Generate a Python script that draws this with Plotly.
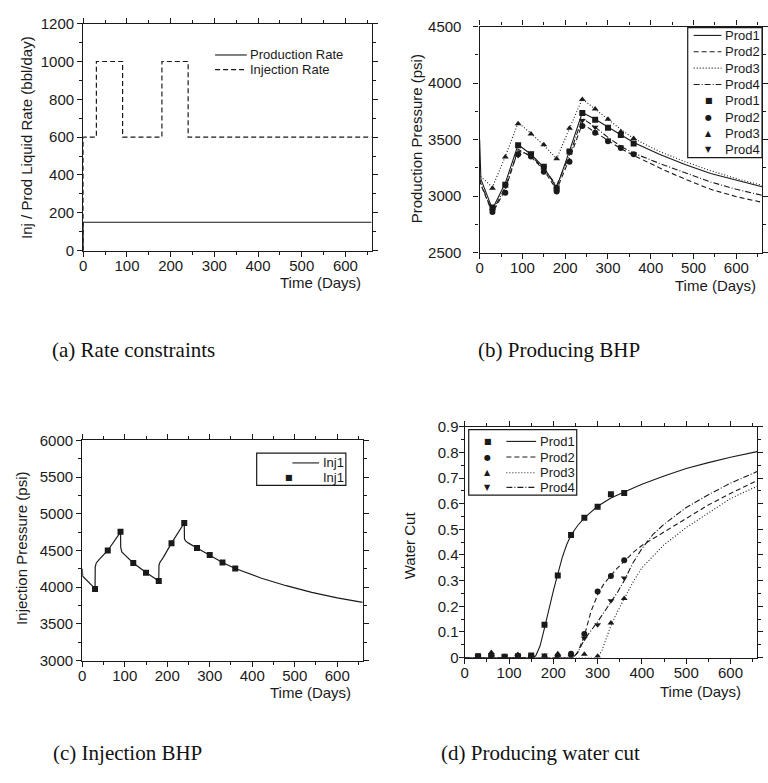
import plotly.graph_objects as go

# ---------------- data ----------------
# (a) rate constraints (step series)
rate_t = [0, 0, 30, 90, 180, 240, 660]
inj_rate = [0, 600, 1000, 600, 1000, 600, 600]
prod_t = [0, 0, 660]
prod_rate = [0, 150, 150]

# (b) producing BHP, simulated lines
bhp_t = [0, 3, 30, 60, 90, 120, 150, 180, 210, 240, 270, 300, 330, 360,
         420, 480, 540, 600, 660]
prod1_bhp = [3500, 3150, 2885, 3115, 3455, 3370, 3255, 3075, 3400, 3740,
             3680, 3610, 3540, 3475, 3370, 3280, 3200, 3140, 3082]
prod2_bhp = [3150, 3100, 2850, 3055, 3415, 3350, 3230, 3055, 3330, 3640,
             3565, 3490, 3420, 3360, 3250, 3150, 3060, 2995, 2945]
prod3_bhp = [3200, 3170, 3080, 3350, 3650, 3555, 3450, 3330, 3600, 3860,
             3770, 3680, 3590, 3510, 3395, 3305, 3225, 3155, 3095]
prod4_bhp = [3150, 3110, 2860, 3080, 3400, 3360, 3240, 3095, 3360, 3690,
             3610, 3520, 3440, 3380, 3290, 3210, 3125, 3060, 3007]

# (b) producing BHP, reference points
pt_t = [30, 60, 90, 120, 150, 180, 210, 240, 270, 300, 330, 360]
prod1_bhp_pts = [2900, 3100, 3450, 3370, 3260, 3070, 3395, 3735, 3675, 3605, 3540, 3465]
prod2_bhp_pts = [2860, 3030, 3370, 3350, 3215, 3040, 3305, 3620, 3560, 3485, 3425, 3370]
prod3_bhp_pts = [3070, 3345, 3640, 3550, 3455, 3330, 3600, 3855, 3770, 3680, 3570, 3510]
prod4_bhp_pts = [2870, 3090, 3360, 3380, 3250, 3060, 3390, 3670, 3610, 3495, 3435, 3375]

# (c) injection BHP
inj_t = [0, 1, 30, 30.5, 33, 40, 60, 90, 90.5, 93, 100, 120, 150, 180,
         180.5, 183, 190, 210, 240, 240.5, 243, 250, 270, 300, 330, 360,
         420, 480, 540, 600, 660]
inj_bhp = [4250, 4150, 3980, 4280, 4330, 4380, 4500, 4750, 4540, 4480,
           4440, 4330, 4200, 4085, 4300, 4340, 4400, 4600, 4875, 4660,
           4630, 4600, 4535, 4440, 4335, 4255, 4125, 4020, 3930, 3855, 3792]
inj_bhp_pts = [3975, 4500, 4755, 4330, 4195, 4085, 4600, 4875, 4535, 4440, 4335, 4255]

# (d) producing water cut, simulated lines
wc1_t = [0, 150, 160, 170, 180, 190, 200, 210, 220, 230, 240, 255, 270, 300,
         330, 360, 400, 450, 500, 550, 600, 660]
wc1 = [0, 0, 0.006, 0.045, 0.115, 0.19, 0.26, 0.325, 0.39, 0.44, 0.478, 0.515,
       0.545, 0.59, 0.622, 0.646, 0.676, 0.708, 0.737, 0.76, 0.781, 0.803]
wc2_t = [0, 245, 255, 270, 285, 300, 315, 330, 345, 360, 380, 400, 450, 500,
         550, 600, 660]
wc2 = [0, 0, 0.02, 0.085, 0.18, 0.245, 0.29, 0.322, 0.35, 0.375, 0.41, 0.437,
       0.49, 0.545, 0.595, 0.64, 0.69]
wc3_t = [0, 300, 310, 320, 330, 345, 360, 380, 400, 450, 500, 550, 600, 660]
wc3 = [0, 0, 0.03, 0.08, 0.125, 0.18, 0.23, 0.295, 0.35, 0.44, 0.507, 0.565,
       0.62, 0.668]
wc4_t = [0, 245, 255, 270, 300, 330, 345, 360, 380, 400, 425, 450, 500, 550,
         600, 660]
wc4 = [0, 0, 0.02, 0.07, 0.14, 0.215, 0.255, 0.3, 0.37, 0.425, 0.48, 0.52,
       0.585, 0.635, 0.68, 0.725]

# (d) producing water cut, reference points
wc1_pts = [0.005, 0.005, 0.003, 0.005, 0.008, 0.128, 0.32, 0.478, 0.545, 0.588, 0.637, 0.642]
wc2_pts = [0.005, 0.008, 0.003, 0.004, 0.006, 0.003, 0.004, 0.015, 0.092, 0.258, 0.318, 0.38]
wc3_pts = [0.003, 0.02, 0.003, 0.012, 0.006, 0.005, 0.015, 0.01, 0.013, 0.005, 0.135, 0.23]
wc4_pts = [0.002, 0.002, 0.005, 0.003, 0.005, 0.01, 0.002, 0.005, 0.075, 0.128, 0.222, 0.31]

well_names = ["Prod1", "Prod2", "Prod3", "Prod4"]
dashes = ["solid", "5px,3px", "1px,2px", "6px,2px,1px,2px"]
symbols = ["square", "circle", "triangle-up", "triangle-down"]
legend_glyphs = ["\u25A0", "\u25CF", "\u25B2", "\u25BC"]

captions = ["(a) Rate constraints", "(b) Producing BHP",
            "(c) Injection BHP", "(d) Producing water cut"]

# ---------------- layout helpers ----------------
W, H = 768, 783
INK = "#1a1a1a"
SANS = "Liberation Sans, Arial, sans-serif"
SERIF = "Liberation Serif, Times New Roman, serif"


def px(x):
    return x / W


def py(y):
    return 1 - y / H


def axis(domain, rng, dtick, minor_dtick, anchor, standoff):
    return dict(
        domain=domain, range=rng, dtick=dtick, anchor=anchor,
        showline=True, linecolor=INK, linewidth=1.3, mirror="allticks",
        ticks="outside", ticklen=5, tickwidth=1, tickcolor=INK,
        showgrid=False, zeroline=False, ticklabelstandoff=standoff,
        minor=dict(dtick=minor_dtick, ticks="outside", ticklen=3,
                   tickwidth=1, tickcolor=INK, showgrid=False),
        tickfont=dict(family=SANS, size=15, color=INK),
    )


fig = go.Figure()

# ---- (a) ----
fig.add_trace(go.Scatter(x=prod_t, y=prod_rate, mode="lines", line_shape="hv",
                         name="Production Rate",
                         line=dict(color=INK, width=1.2, dash="solid"),
                         xaxis="x", yaxis="y"))
fig.add_trace(go.Scatter(x=rate_t, y=inj_rate, mode="lines", line_shape="hv",
                         name="Injection Rate",
                         line=dict(color=INK, width=1.2, dash="5px,3px"),
                         xaxis="x", yaxis="y"))

# ---- (b) ----
bhp_lines = [prod1_bhp, prod2_bhp, prod3_bhp, prod4_bhp]
bhp_pts = [prod1_bhp_pts, prod2_bhp_pts, prod3_bhp_pts, prod4_bhp_pts]
for name, vals, dash in zip(well_names, bhp_lines, dashes):
    fig.add_trace(go.Scatter(x=bhp_t, y=vals, mode="lines", name=name,
                             line=dict(color=INK, width=1.1, dash=dash),
                             xaxis="x2", yaxis="y2"))
for name, vals, sym in zip(well_names, bhp_pts, symbols):
    fig.add_trace(go.Scatter(x=pt_t, y=vals, mode="markers", name=name,
                             marker=dict(symbol=sym, size=6, color=INK),
                             xaxis="x2", yaxis="y2"))

# ---- (c) ----
fig.add_trace(go.Scatter(x=inj_t, y=inj_bhp, mode="lines", name="Inj1",
                         line=dict(color=INK, width=1.2),
                         xaxis="x3", yaxis="y3"))
fig.add_trace(go.Scatter(x=pt_t, y=inj_bhp_pts, mode="markers", name="Inj1",
                         marker=dict(symbol="square", size=6, color=INK),
                         xaxis="x3", yaxis="y3"))

# ---- (d) ----
wc_lines = [(wc1_t, wc1), (wc2_t, wc2), (wc3_t, wc3), (wc4_t, wc4)]
wc_pts = [wc1_pts, wc2_pts, wc3_pts, wc4_pts]
for name, (t, vals), dash in zip(well_names, wc_lines, dashes):
    fig.add_trace(go.Scatter(x=t, y=vals, mode="lines", name=name,
                             line=dict(color=INK, width=1.1, dash=dash),
                             xaxis="x4", yaxis="y4"))
for name, vals, sym in zip(well_names, wc_pts, symbols):
    fig.add_trace(go.Scatter(x=pt_t, y=vals, mode="markers", name=name,
                             marker=dict(symbol=sym, size=6, color=INK),
                             xaxis="x4", yaxis="y4"))

# plot-area boxes (pixels: left, top, right, bottom)
box_a = (80, 15, 371, 247)
box_b = (480, 18, 765, 249)
box_c = (79, 441, 362, 666)
box_d = (465, 427, 760, 663)


def dom(box):
    l, t, r, b = box
    return [px(l), px(r)], [py(b), py(t)]


xa, ya = dom(box_a)
xb, yb = dom(box_b)
xc, yc = dom(box_c)
xd, yd = dom(box_d)

fig.update_layout(
    width=W, height=H, margin=dict(l=0, r=0, t=0, b=0),
    paper_bgcolor="white", plot_bgcolor="white", showlegend=False,
    xaxis=axis(xa, [0, 660], 100, 50, "y", -4),
    yaxis=axis(ya, [0, 1200], 200, 100, "x", 0),
    xaxis2=axis(xb, [0, 660], 100, 50, "y2", -4),
    yaxis2=axis(yb, [2500, 4500], 500, 250, "x2", 9),
    xaxis3=axis(xc, [0, 660], 100, 50, "y3", -4),
    yaxis3=axis(yc, [3000, 6000], 500, 250, "x3", 0),
    xaxis4=axis(xd, [0, 660], 100, 50, "y4", -4),
    yaxis4=axis(yd, [0, 0.9], 0.1, 0.05, "x4", -3),
)

shapes = []
annotations = []
legend_font = dict(family=SANS, size=13, color=INK)


def legend_box(l, t, r, b):
    shapes.append(dict(type="rect", xref="paper", yref="paper",
                       x0=px(l), x1=px(r), y0=py(b), y1=py(t),
                       line=dict(color=INK, width=1.2), fillcolor="white",
                       layer="above"))


def key_line(x0, x1, y, dash):
    shapes.append(dict(type="line", xref="paper", yref="paper",
                       x0=px(x0), x1=px(x1), y0=py(y), y1=py(y),
                       line=dict(color=INK, width=1.1, dash=dash),
                       layer="above"))


def key_glyph(x, y, glyph):
    annotations.append(dict(xref="paper", yref="paper", x=px(x), y=py(y),
                            text=glyph, showarrow=False,
                            font=dict(family="DejaVu Sans", size=8, color=INK),
                            xanchor="center", yanchor="middle"))


def key_text(x, y, text):
    annotations.append(dict(xref="paper", yref="paper", x=px(x), y=py(y),
                            text=text, showarrow=False, font=legend_font,
                            xanchor="left", yanchor="middle"))


# legend (a)
key_line(213, 245, 47, "solid")
key_text(246, 47, "Production Rate")
key_line(213, 245, 62, "5px,3px")
key_text(246, 62, "Injection Rate")

# legend (b)
legend_box(690, 19, 765, 152)
rows_b = [27, 43.7, 60.4, 77.1, 93.8, 110.5, 127.2, 143.9]
for i, (name, dash) in enumerate(zip(well_names, dashes)):
    key_line(696, 724, rows_b[i], dash)
    key_text(726, rows_b[i], name)
for i, (name, glyph) in enumerate(zip(well_names, legend_glyphs)):
    key_glyph(711, rows_b[i + 4], glyph)
    key_text(726, rows_b[i + 4], name)

# legend (c)
legend_box(255, 454, 345, 487)
key_line(291, 318, 464, "solid")
key_text(320, 464, "Inj1")
key_glyph(288, 479, legend_glyphs[0])
key_text(320, 479, "Inj1")

# legend (d): marker key, line key and name in one row per well
legend_box(469, 430, 578, 497)
rows_d = [442, 458, 474, 489]
for name, dash, glyph, ry in zip(well_names, dashes, legend_glyphs, rows_d):
    key_glyph(488, ry, glyph)
    key_line(507, 537, ry, dash)
    key_text(539, ry, name)

# axis titles
title_font = dict(family=SANS, size=15, color=INK)
x_titles = [(362, 280), (761, 283), (352, 699), (746, 698)]
for xr, yc_ in x_titles:
    annotations.append(dict(xref="paper", yref="paper", x=px(xr), y=py(yc_),
                            text="Time (Days)", showarrow=False,
                            font=title_font, xanchor="right",
                            yanchor="middle"))
y_titles = [(22, 131, "Inj / Prod Liquid Rate (bbl/day)"),
            (416, 133, "Production Pressure (psi)"),
            (17, 551, "Injection Pressure (psi)"),
            (409, 548, "Water Cut")]
for xc_, yc_, txt in y_titles:
    annotations.append(dict(xref="paper", yref="paper", x=px(xc_), y=py(yc_),
                            text=txt, showarrow=False, textangle=-90,
                            font=title_font, xanchor="center",
                            yanchor="middle"))

# sub-figure captions
cap_pos = [(131, 349), (560, 349), (125, 761), (541, 761)]
for (cx, cy), txt in zip(cap_pos, captions):
    annotations.append(dict(xref="paper", yref="paper", x=px(cx), y=py(cy),
                            text=txt, showarrow=False,
                            font=dict(family=SERIF, size=21, color="#111"),
                            xanchor="center", yanchor="middle"))

fig.update_layout(shapes=shapes, annotations=annotations)

fig.write_html("out.html")
